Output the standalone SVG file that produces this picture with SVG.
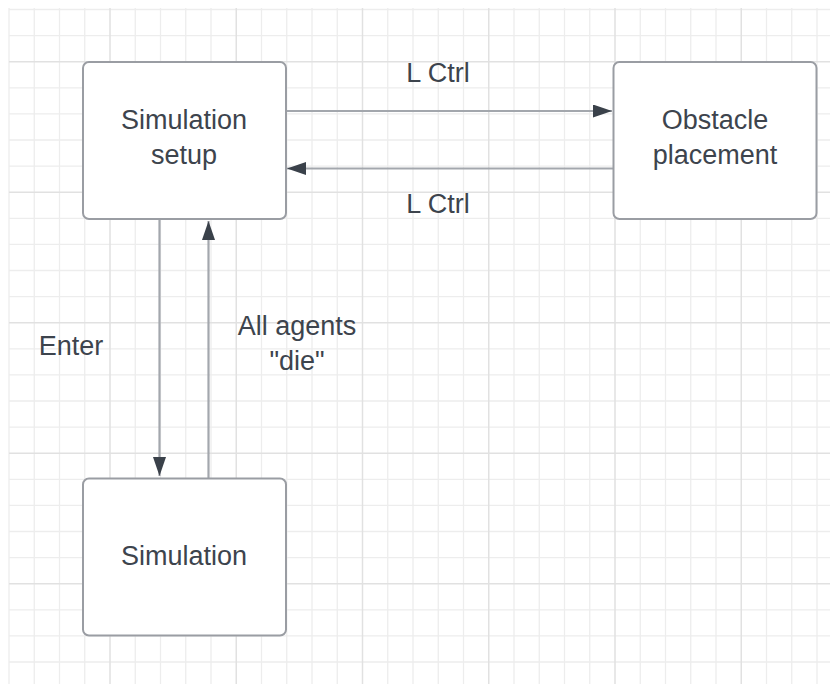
<svg xmlns="http://www.w3.org/2000/svg" width="830" height="684" viewBox="0 0 830 684">
  <style>
    .minor { stroke: #ededed; stroke-width: 1.3; fill: none; }
    .major { stroke: #e1e1e1; stroke-width: 1.5; fill: none; }
    .box { fill: #ffffff; stroke: #9a9da3; stroke-width: 2; }
    .label { font-family: "Liberation Sans", Arial, sans-serif; font-size: 27px; fill: #3d444d; text-anchor: middle; }
    .conn { stroke: #a3a7ad; stroke-width: 2.2; fill: none; }
  </style>
  <defs>
    <marker id="arrow" markerUnits="userSpaceOnUse" markerWidth="19" markerHeight="13" refX="19" refY="6.5" orient="auto">
      <path d="M0,0 L19,6.5 L0,13 Z" fill="#3a414a"/>
    </marker>
  </defs>
  <rect width="830" height="684" fill="#ffffff"/>
  <g id="grid">
    <path class="minor" d="M9,8V684 M34.25,8V684 M59.5,8V684 M84.75,8V684 M135.25,8V684 M160.5,8V684 M185.75,8V684 M211,8V684 M261.5,8V684 M286.75,8V684 M312,8V684 M337.25,8V684 M387.75,8V684 M413,8V684 M438.25,8V684 M463.5,8V684 M514,8V684 M539.25,8V684 M564.5,8V684 M589.75,8V684 M640.25,8V684 M665.5,8V684 M690.75,8V684 M716,8V684 M766.5,8V684 M791.75,8V684 M817,8V684
      M9,9.5H830 M9,35.6H830 M9,87.8H830 M9,113.9H830 M9,140H830 M9,166.1H830 M9,218.3H830 M9,244.4H830 M9,270.5H830 M9,296.6H830 M9,348.8H830 M9,374.9H830 M9,401H830 M9,427.1H830 M9,479.3H830 M9,505.4H830 M9,531.5H830 M9,557.6H830 M9,609.8H830 M9,635.9H830 M9,662H830"/>
    <path class="major" d="M110,8V684 M236.25,8V684 M362.5,8V684 M488.75,8V684 M615,8V684 M741.25,8V684
      M9,61.7H830 M9,192.2H830 M9,322.7H830 M9,453.2H830 M9,583.7H830"/>
  </g>
  <g id="connectors">
    <line class="conn" x1="287" y1="111" x2="612" y2="111" marker-end="url(#arrow)"/>
    <line class="conn" x1="613" y1="168.5" x2="287" y2="168.5" marker-end="url(#arrow)"/>
    <line class="conn" x1="159.5" y1="220" x2="159.5" y2="476" marker-end="url(#arrow)"/>
    <line class="conn" x1="208.5" y1="478" x2="208.5" y2="221" marker-end="url(#arrow)"/>
    <text class="label" x="438" y="81.5">L Ctrl</text>
    <text class="label" x="438" y="212.5">L Ctrl</text>
    <text class="label" x="71" y="354.5">Enter</text>
    <text class="label" x="297" y="335">All agents</text>
    <text class="label" x="297" y="370">"die"</text>
  </g>
  <g id="simulation-setup">
    <rect class="box" x="83" y="62" width="203" height="157" rx="6"/>
    <text class="label" x="184" y="128.5">Simulation</text>
    <text class="label" x="184" y="163.5">setup</text>
  </g>
  <g id="obstacle-placement">
    <rect class="box" x="613.5" y="62" width="203" height="157" rx="6"/>
    <text class="label" x="715" y="128.5">Obstacle</text>
    <text class="label" x="715" y="163.5">placement</text>
  </g>
  <g id="simulation">
    <rect class="box" x="83" y="478.5" width="203" height="157" rx="6"/>
    <text class="label" x="184" y="565">Simulation</text>
  </g>
</svg>
